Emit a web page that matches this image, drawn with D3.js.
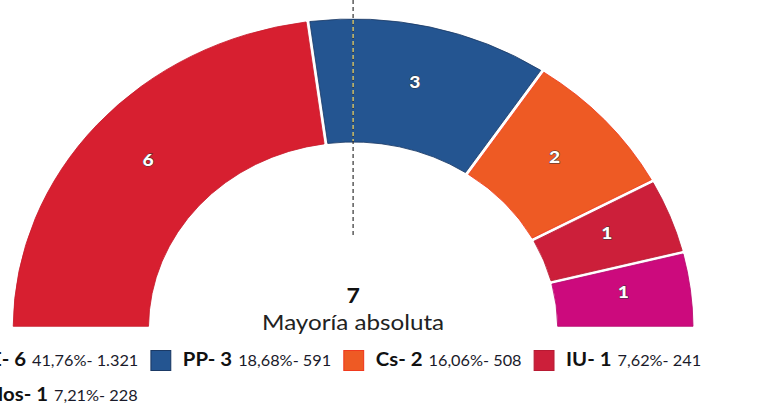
<!DOCTYPE html>
<html>
  <head>
    <meta charset="utf-8">
    <title>Concejales</title>
    <script src="https://d3js.org/d3.v7.min.js"></script>
    <style>
      body { margin: 0; background: #fff; }
      svg { display: block; font-family: Lato, "Open Sans", sans-serif; }
    </style>
  </head>
  <body>
    <script>
      // data
      var parties  = ["PSOE", "PP", "Cs", "IU", "Vecinos Unidos"];
      var seats    = [6, 3, 2, 1, 1];
      var percents = ["41,76%", "18,68%", "16,06%", "7,62%", "7,21%"];
      var votes    = ["1.321", "591", "508", "241", "228"];
      var colors   = ["#d71f30", "#245591", "#ee5a24", "#cc1f3a", "#cc0a7d"];
      var strokes  = ["#c81c2c", "#1b3a66", "#f03a1e", "#b81a33", "#b8096f"];
      var majority = 7;

      var W = 782, H = 405;
      // the graphic is stretched sideways, so everything is drawn in a
      // narrower space and scaled by sx
      var sx = 1.1;
      var cx = 321, cy = 328;

      var svg = d3.select("body").append("svg")
        .attr("width", W)
        .attr("height", H);

      var root = svg.append("g")
        .attr("transform", "scale(" + sx + ",1)");

      var pie = d3.pie()
        .sort(null)
        .startAngle(-Math.PI / 2)
        .endAngle(Math.PI / 2)
        .padAngle(0.0095)
        .value(function(d) { return d; });

      var inner = 186, outer = 309;

      var arc = d3.arc()
        .innerRadius(inner)
        .outerRadius(outer);

      var labelArc = d3.arc()
        .innerRadius((inner + outer) / 2)
        .outerRadius((inner + outer) / 2);

      var arcs = pie(seats);

      var g = root.append("g")
        .attr("transform", "translate(" + cx + "," + cy + ")");

      g.selectAll("path")
        .data(arcs)
        .enter().append("path")
        .attr("d", arc)
        .attr("fill", function(d, i) { return colors[i]; })
        .attr("stroke", function(d, i) { return strokes[i]; })
        .attr("stroke-width", 0.8);

      // dashed majority line (lighter where it crosses the PP block)
      root.append("line")
        .attr("x1", cx).attr("x2", cx)
        .attr("y1", 0).attr("y2", 238)
        .attr("stroke", "#333")
        .attr("stroke-width", 1.1)
        .attr("stroke-dasharray", "4,3");
      root.append("line")
        .attr("x1", cx).attr("x2", cx)
        .attr("y1", cy - outer + 1).attr("y2", cy - inner - 1)
        .attr("stroke", "#e0d070")
        .attr("stroke-width", 1.2)
        .attr("stroke-dasharray", "4,3");

      // seat labels
      g.selectAll("text.seat")
        .data(arcs)
        .enter().append("text")
        .attr("class", "seat")
        .attr("x", function(d) { return labelArc.centroid(d)[0]; })
        .attr("y", function(d) { return labelArc.centroid(d)[1] + 1; })
        .attr("text-anchor", "middle")
        .attr("font-size", 17.5)
        .attr("font-weight", "900")
        .attr("fill", "#fff")
        .attr("stroke", "#333")
        .attr("stroke-width", 0.9)
        .attr("paint-order", "stroke")
        .text(function(d) { return d.data; });

      // majority text
      root.append("text")
        .attr("x", cx).attr("y", 303)
        .attr("text-anchor", "middle")
        .attr("font-size", 21)
        .attr("font-weight", "bold")
        .attr("fill", "#111")
        .text(majority);

      root.append("text")
        .attr("x", cx).attr("y", 330)
        .attr("text-anchor", "middle")
        .attr("font-size", 22)
        .attr("fill", "#222")
        .text("Mayoría absoluta");

      // legend: first item of each row is cut at the left edge
      var rows = [[0, 1, 2, 3], [4]];
      var rowY = [366, 401];
      var firstLabelEnd = [23.6, 43.6];

      rows.forEach(function(row, r) {
        var x = null;
        row.forEach(function(i, k) {
          var item = root.append("g");
          var lab = item.append("text")
            .attr("y", rowY[r])
            .attr("font-size", 18.5)
            .attr("font-weight", "bold")
            .attr("fill", "#111")
            .text(parties[i] + "- " + seats[i]);
          var lw = lab.node().getComputedTextLength();
          if (k === 0) x = firstLabelEnd[r] - lw - 29;
          item.append("rect")
            .attr("x", x).attr("y", rowY[r] - 15.5)
            .attr("width", 18).attr("height", 20)
            .attr("fill", colors[i])
            .attr("stroke", strokes[i])
            .attr("stroke-width", 1);
          lab.attr("x", x + 29);
          var val = item.append("text")
            .attr("x", x + 29 + lw + 5.5)
            .attr("y", rowY[r])
            .attr("font-size", 14.8)
            .attr("fill", "#1a1a2a")
            .text(percents[i] + "- " + votes[i]);
          x = x + 29 + lw + 5.5 + val.node().getComputedTextLength() + 11.5;
        });
      });
    </script>
  </body>
</html>
